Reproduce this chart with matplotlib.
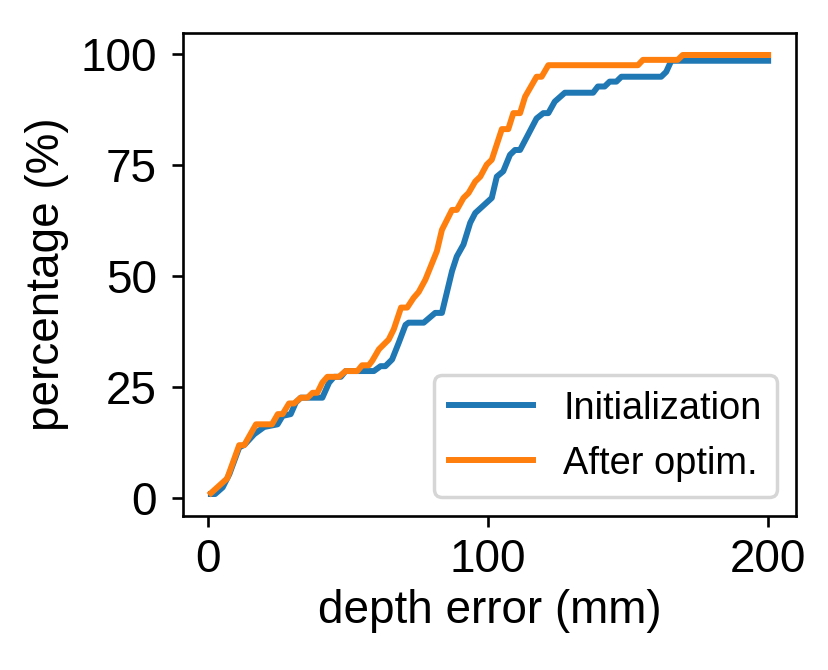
import matplotlib
matplotlib.use("Agg")
import matplotlib.pyplot as plt

# depth error (mm) vs cumulative percentage
init_x = [1, 2.5, 5.2, 7.6, 11.1, 13.0, 16.5, 20.0, 24.8, 26.6, 29.5, 31.3, 33.1,
          40.8, 43.2, 45.0, 47.4, 49.1, 59.2, 61.6, 63.3, 65.7, 68.1, 70.5, 71.6,
          77.0, 81.1, 83.5, 87.1, 88.8, 91.2, 93.6, 95.4, 101.3, 103.1, 105.4,
          107.8, 109.6, 111.4, 117.3, 119.7, 121.5, 123.8, 127.4, 137.5, 139.2,
          141.6, 143.4, 145.8, 147.6, 161.8, 163.6, 165.4, 200]
init_y = [0.9, 0.9, 2.4, 5.4, 11.4, 12.0, 14.4, 16.0, 16.6, 18.5, 18.9, 21.5, 22.6,
          22.6, 26.0, 27.3, 27.3, 28.6, 28.6, 29.7, 29.7, 31.2, 35.0, 39.0, 39.5,
          39.5, 41.7, 41.7, 51.1, 54.4, 57.1, 62.0, 64.2, 67.6, 72.4, 73.6,
          77.3, 78.4, 78.4, 85.5, 86.7, 86.7, 89.3, 91.3, 91.3, 92.7,
          92.7, 93.8, 93.8, 94.9, 94.9, 96.0, 98.5, 98.5]

opt_x = [1, 6.8, 11.1, 12.9, 17.1, 22.8, 24.9, 26.6, 28.9, 30.7, 33.1, 35.5, 37.3,
         39.0, 40.8, 42.6, 46.7, 49.1, 53.3, 55.0, 57.4, 58.6, 61.0, 64.5, 66.3,
         68.9, 71.1, 73.4, 75.2, 77.6, 81.7, 83.5, 87.1, 88.8, 91.2, 93.0, 95.4,
         97.2, 99.5, 101.3, 104.9, 107.2, 109.0, 111.4, 113.2, 117.3, 119.1,
         121.5, 153.5, 155.3, 167.7, 169.5, 200]
opt_y = [1.1, 4.4, 11.9, 11.9, 16.6, 16.6, 18.9, 18.9, 21.3, 21.3, 22.6, 22.6, 23.7,
         23.7, 26.0, 27.3, 27.3, 28.6, 28.6, 29.9, 29.9, 30.9, 33.5, 35.7, 38.0,
         42.9, 42.9, 45.1, 46.4, 49.2, 55.6, 60.4, 64.9, 64.9, 67.6, 68.7, 71.3,
         72.4, 75.1, 76.2, 83.1, 83.1, 86.7, 86.7, 90.4, 94.9, 94.9,
         97.5, 97.5, 98.7, 98.7, 99.8, 99.8]

plt.rcParams['font.family'] = ['Liberation Sans', 'DejaVu Sans']

fig = plt.figure(figsize=(8.29, 6.7), dpi=100)
ax = fig.add_axes([0.2208, 0.2299, 0.7394, 0.7208])

ax.plot(init_x, init_y, color='#1f77b4', linewidth=4.3, label='Initialization')
ax.plot(opt_x, opt_y, color='#ff7f0e', linewidth=4.3, label='After optim.')

ax.set_xticks([0, 100, 200])
ax.set_yticks([0, 25, 50, 75, 100])
ax.tick_params(labelsize=33, length=7.9, width=1.9, pad=8)
ax.tick_params(axis='y', pad=11)
for s in ax.spines.values():
    s.set_linewidth(1.9)

ax.set_xlabel('depth error (mm)', fontsize=33, labelpad=5)
ax.set_ylabel('percentage (%)', fontsize=33, labelpad=8)

leg = ax.legend(loc='lower right', fontsize=27.4, handlelength=2.2)
leg.get_frame().set_linewidth(2.5)

fig.savefig('out.png', dpi=100)
